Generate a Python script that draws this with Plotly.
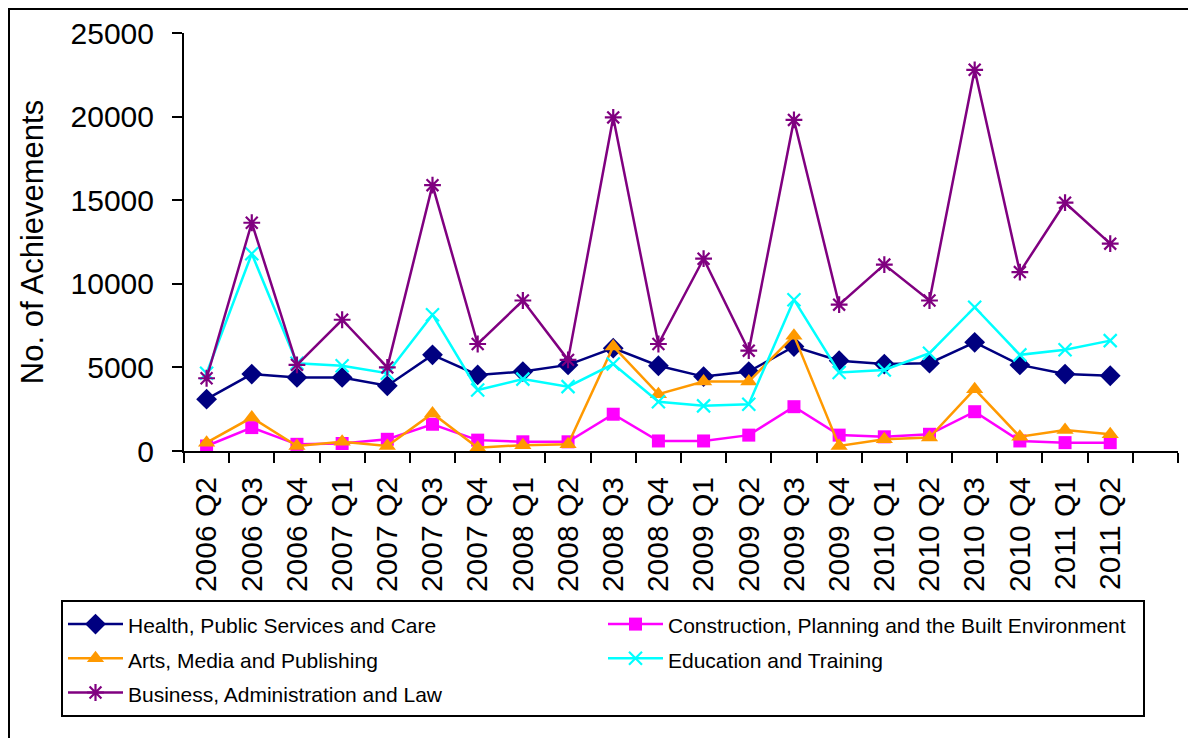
import plotly.graph_objects as go

quarters = ["2006 Q2", "2006 Q3", "2006 Q4", "2007 Q1", "2007 Q2", "2007 Q3", "2007 Q4",
            "2008 Q1", "2008 Q2", "2008 Q3", "2008 Q4", "2009 Q1", "2009 Q2", "2009 Q3",
            "2009 Q4", "2010 Q1", "2010 Q2", "2010 Q3", "2010 Q4", "2011 Q1", "2011 Q2"]

health = [3100, 4600, 4400, 4400, 3900, 5750, 4550, 4750, 5150, 6150, 5100, 4450, 4750, 6250,
          5400, 5200, 5250, 6500, 5150, 4600, 4500]
construction = [300, 1400, 400, 450, 700, 1600, 650, 550, 550, 2200, 600, 600, 950, 2650,
                950, 850, 1000, 2350, 600, 500, 500]
arts = [500, 2000, 300, 550, 300, 2250, 200, 350, 400, 6250, 3400, 4150, 4150, 6900,
        300, 700, 800, 3700, 850, 1250, 1000]
education = [4650, 11800, 5250, 5100, 4650, 8150, 3650, 4300, 3850, 5200, 2950, 2700, 2800, 9050,
             4700, 4850, 5850, 8600, 5750, 6050, 6600]
business = [4350, 13650, 5150, 7850, 5000, 15900, 6400, 9000, 5450, 19950, 6400, 11500, 6000, 19800,
            8750, 11150, 9000, 22800, 10700, 14850, 12400]

series_names = ["Health, Public Services and Care",
                "Construction, Planning and the Built Environment",
                "Arts, Media and Publishing",
                "Education and Training",
                "Business, Administration and Law"]

series = [
    (series_names[0], health, "#000080", "diamond", 16),
    (series_names[1], construction, "#FF00FF", "square", 13),
    (series_names[2], arts, "#FF9900", "triangle-up", 15),
    (series_names[3], education, "#00FFFF", "x-thin-open", 13),
    (series_names[4], business, "#800080", "asterisk-open", 14),
]

xidx = list(range(len(quarters)))

fig = go.Figure()
for name, vals, color, sym, size in series:
    fig.add_trace(go.Scatter(
        x=xidx, y=vals, name='<span style="font-size:21px">' + name + '</span>',
        mode="lines+markers",
        line=dict(color=color, width=2.5),
        marker=dict(symbol=sym, size=size, color=color,
                    line=dict(color=color, width=2.2 if "open" in sym else 0)),
    ))

FONT = "Arial, Liberation Sans, sans-serif"

# the page body has an 8px margin, so the figure is 8px smaller than the window
W, H = 1188, 730
L, R, T, B = 176, 18, 25, 287
PW, PH = W - L - R, H - T - B

fig.update_layout(
    width=W, height=H,
    margin=dict(l=L, r=R, t=T, b=B, autoexpand=False),
    paper_bgcolor="white", plot_bgcolor="white",
    font=dict(family=FONT, color="black"),
    showlegend=True,
    legend=dict(
        orientation="h",
        x=(53 - L) / PW, y=((H - B) - 592) / PH, xanchor="left", yanchor="top",
        font=dict(size=24, family=FONT, color="black"),
        bordercolor="black", borderwidth=2, bgcolor="white",
        itemwidth=55, entrywidth=470, entrywidthmode="pixels",
        traceorder="normal",
    ),
    xaxis=dict(
        range=[-0.5, 21.5], tickmode="array", tickvals=xidx, ticktext=quarters,
        tickangle=-90, tickfont=dict(size=30, family=FONT, color="black"),
        showline=True, linecolor="black", linewidth=2, showgrid=False, zeroline=False,
        ticks="outside", ticklen=12, tickcolor="rgba(0,0,0,0)", automargin=False,
        minor=dict(tickmode="linear", tick0=-0.5, dtick=1, ticks="outside",
                   ticklen=10, tickwidth=2, tickcolor="black", showgrid=False),
    ),
    yaxis=dict(
        range=[0, 25000], tickmode="linear", tick0=0, dtick=5000, tickformat="d",
        tickfont=dict(size=30, family=FONT, color="black"),
        showline=True, linecolor="black", linewidth=2, showgrid=False, zeroline=False,
        ticks="outside", ticklen=10, tickwidth=2, tickcolor="black",
        ticklabelstandoff=12, automargin=False,
        title=dict(text="No. of Achievements", font=dict(size=31, family=FONT, color="black"),
                   standoff=18),
    ),
    shapes=[dict(type="rect", xref="paper", yref="paper",
                 x0=(1 - L) / PW, x1=1.2, y0=-1.0, y1=((H - B) - 1) / PH,
                 line=dict(color="black", width=2), fillcolor="rgba(0,0,0,0)", layer="below")],
)

fig.write_html("out.html")
